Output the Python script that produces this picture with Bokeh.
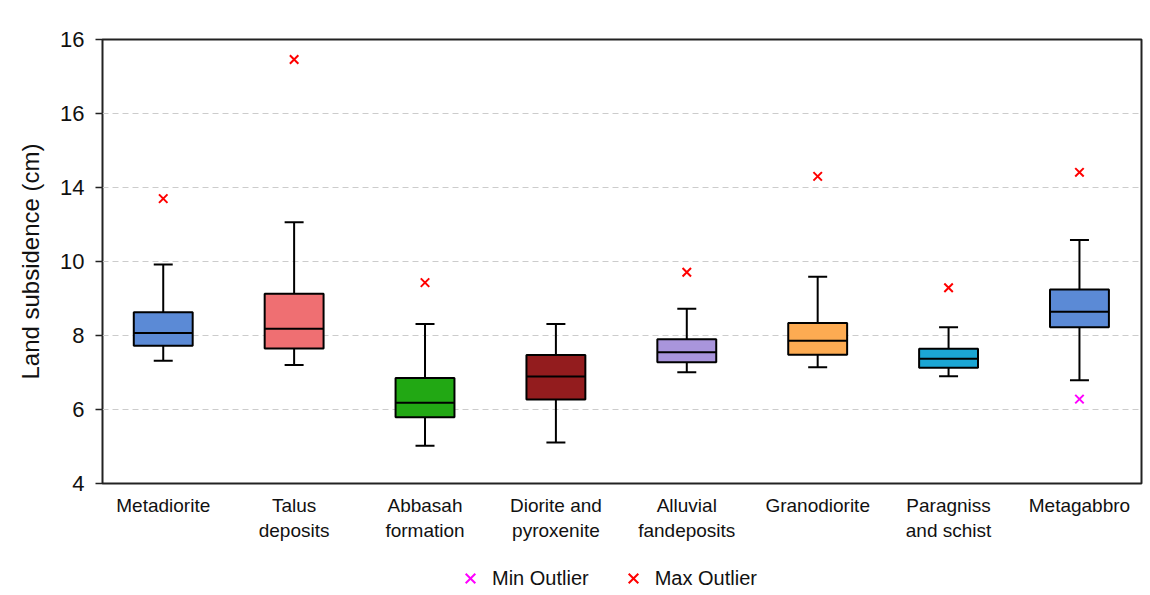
from bokeh.plotting import figure
from bokeh.layouts import column
from bokeh.models import (FixedTicker, Range1d, Legend, LegendItem)
from bokeh.embed import file_html
from bokeh.resources import INLINE

# ---- data ----
categories = ["Metadiorite", "Talus\ndeposits", "Abbasah\nformation", "Diorite and\npyroxenite",
              "Alluvial\nfandeposits", "Granodiorite", "Paragniss\nand schist", "Metagabbro"]
lower_whisker = [7.32, 7.20, 5.02, 5.11, 7.01, 7.14, 6.90, 6.79]
q1 = [7.72, 7.65, 5.79, 6.27, 7.28, 7.48, 7.13, 8.22]
median = [8.07, 8.18, 6.18, 6.89, 7.55, 7.86, 7.37, 8.64]
q3 = [8.63, 9.13, 6.85, 7.47, 7.90, 8.34, 7.64, 9.24]
upper_whisker = [9.92, 11.06, 8.31, 8.31, 8.72, 9.59, 8.22, 10.58]
box_colors = ["#5b8ad6", "#ef6f72", "#22a814", "#931c1e", "#a995dc", "#fdab52", "#1ba6d4", "#5b8ad6"]

max_outlier_idx = [0, 1, 2, 4, 5, 6, 7]
max_outlier_val = [11.70, 15.46, 9.43, 9.71, 12.30, 9.29, 12.41]
min_outlier_idx = [7]
min_outlier_val = [6.28]

y_ticks = [4, 6, 8, 10, 12, 14, 16]
y_tick_labels = ["4", "6", "8", "10", "14", "16", "16"]

MIN_COLOR = "#ff00ff"
MAX_COLOR = "#ff0000"
FONT = "Liberation Sans"

# ---- main figure ----
p = figure(width=1145, height=545, output_backend="svg", toolbar_location=None,
           x_range=Range1d(-0.464, 7.474), y_range=Range1d(4, 16),
           min_border_left=102, min_border_right=4, min_border_top=39, min_border_bottom=62)
p.background_fill_color = "white"
p.border_fill_color = "white"
p.outline_line_color = "#222222"
p.outline_line_width = 2

xs = list(range(len(categories)))
box_w = 0.45
cap_w = 0.145

# whiskers
p.segment(x0=xs, y0=q3, x1=xs, y1=upper_whisker, line_color="black", line_width=2)
p.segment(x0=xs, y0=lower_whisker, x1=xs, y1=q1, line_color="black", line_width=2)
p.segment(x0=[x - cap_w / 2 for x in xs], y0=upper_whisker, x1=[x + cap_w / 2 for x in xs],
          y1=upper_whisker, line_color="black", line_width=2)
p.segment(x0=[x - cap_w / 2 for x in xs], y0=lower_whisker, x1=[x + cap_w / 2 for x in xs],
          y1=lower_whisker, line_color="black", line_width=2)
# boxes
p.vbar(x=xs, width=box_w, bottom=q1, top=q3, fill_color=box_colors, fill_alpha=1.0,
       line_color="black", line_width=2)
# medians
p.segment(x0=[x - box_w / 2 for x in xs], y0=median, x1=[x + box_w / 2 for x in xs], y1=median,
          line_color="black", line_width=2)

# outliers
p.scatter(x=min_outlier_idx, y=min_outlier_val, marker="x", size=12,
          line_color=MIN_COLOR, line_width=2)
p.scatter(x=max_outlier_idx, y=max_outlier_val, marker="x", size=12,
          line_color=MAX_COLOR, line_width=2)

# grid
p.xgrid.grid_line_color = None
p.ygrid.grid_line_color = "#cccccc"
p.ygrid.grid_line_dash = "6 4"
p.ygrid.grid_line_width = 1
p.ygrid.ticker = FixedTicker(ticks=[6, 8, 10, 12, 14])

# y axis
p.yaxis.ticker = FixedTicker(ticks=y_ticks)
p.yaxis.major_label_overrides = {t: l for t, l in zip(y_ticks, y_tick_labels)}
p.yaxis.axis_label = "Land subsidence (cm)"
p.yaxis.axis_label_text_font = FONT
p.yaxis.axis_label_text_font_style = "normal"
p.yaxis.axis_label_text_font_size = "24px"
p.yaxis.axis_label_text_color = "#111111"
p.yaxis.axis_label_standoff = 13
p.yaxis.major_label_text_font = FONT
p.yaxis.major_label_text_font_size = "22px"
p.yaxis.major_label_text_color = "#111111"
p.yaxis.major_tick_out = 7
p.yaxis.major_tick_in = 0
p.yaxis.minor_tick_line_color = None
p.yaxis.axis_line_color = None
p.yaxis.major_tick_line_color = "#222222"
p.yaxis.major_tick_line_width = 1.5
p.yaxis.major_label_standoff = 11

# x axis
p.xaxis.ticker = FixedTicker(ticks=xs)
p.xaxis.major_label_overrides = {i: c for i, c in enumerate(categories)}
p.xaxis.major_label_text_font = FONT
p.xaxis.major_label_text_font_size = "19px"
p.xaxis.major_label_text_color = "#111111"
p.xaxis.major_tick_line_color = None
p.xaxis.minor_tick_line_color = None
p.xaxis.axis_line_color = None
p.xaxis.major_label_standoff = 5

# ---- legend strip below (its frame is aligned with the main plot's frame) ----
leg = figure(width=1145, height=42, output_backend="svg", toolbar_location=None,
             x_range=Range1d(0, 1), y_range=Range1d(0, 1),
             min_border_left=0, min_border_right=0, min_border_top=0, min_border_bottom=0)
leg.axis.visible = False
leg.grid.visible = False
leg.outline_line_color = None
leg.background_fill_color = "white"
leg.border_fill_color = "white"
# one off-range point each so the legend glyphs have something to draw from
r_min = leg.scatter(x=[-10], y=[-10], marker="x", size=12, line_color=MIN_COLOR, line_width=2)
r_max = leg.scatter(x=[-10], y=[-10], marker="x", size=12, line_color=MAX_COLOR, line_width=2)

legend = Legend(items=[LegendItem(label="Min Outlier", renderers=[r_min]),
                       LegendItem(label="Max Outlier", renderers=[r_max])],
                orientation="horizontal", location=(351, -8))
legend.border_line_color = None
legend.background_fill_alpha = 0
legend.label_text_font = FONT
legend.label_text_font_size = "20px"
legend.label_text_color = "#111111"
legend.spacing = 27
legend.label_standoff = 5
legend.glyph_width = 34
legend.glyph_height = 34
legend.margin = 0
legend.padding = 0
leg.add_layout(legend, "center")

layout = column(p, leg, spacing=0)
open("out.html", "w").write(file_html(layout, INLINE))
